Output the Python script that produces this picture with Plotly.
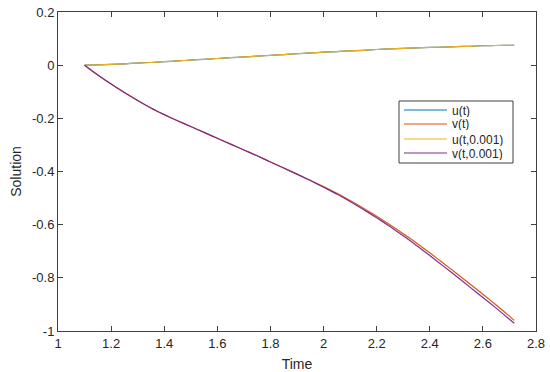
import plotly.graph_objects as go

t = [1.1, 1.15, 1.2, 1.25, 1.3, 1.35, 1.4, 1.45, 1.5, 1.55, 1.6, 1.65, 1.7, 1.75, 1.8, 1.85, 1.9, 1.95,
     2.0, 2.05, 2.1, 2.15, 2.2, 2.25, 2.3, 2.35, 2.4, 2.45, 2.5, 2.55, 2.6, 2.65, 2.7, 2.718]
u_exact = [0.0, 0.001, 0.003, 0.005, 0.008, 0.010, 0.013, 0.016, 0.019, 0.022, 0.025, 0.028, 0.031, 0.034,
           0.037, 0.040, 0.043, 0.046, 0.049, 0.051, 0.054, 0.056, 0.059, 0.061, 0.063, 0.065, 0.067, 0.068,
           0.070, 0.071, 0.073, 0.074, 0.075, 0.075]
v_exact = [0.0, -0.037, -0.071, -0.103, -0.133, -0.161, -0.186, -0.209, -0.231, -0.253, -0.275, -0.297,
           -0.319, -0.341, -0.364, -0.387, -0.41, -0.433, -0.457, -0.482, -0.509, -0.538, -0.568, -0.6,
           -0.634, -0.669, -0.706, -0.744, -0.783, -0.822, -0.862, -0.902, -0.944, -0.96]
u_approx = [0.0, 0.001, 0.003, 0.005, 0.008, 0.010, 0.013, 0.016, 0.019, 0.022, 0.025, 0.028, 0.031, 0.034,
            0.037, 0.040, 0.043, 0.046, 0.049, 0.051, 0.054, 0.056, 0.059, 0.061, 0.063, 0.065, 0.067, 0.068,
            0.070, 0.071, 0.073, 0.074, 0.075, 0.075]
v_approx = [0.0, -0.037, -0.071, -0.103, -0.133, -0.161, -0.186, -0.209, -0.231, -0.253, -0.275, -0.297,
            -0.319, -0.341, -0.364, -0.387, -0.41, -0.434, -0.459, -0.485, -0.513, -0.543, -0.574, -0.607,
            -0.642, -0.678, -0.716, -0.755, -0.794, -0.834, -0.874, -0.914, -0.956, -0.971]

names = ["u(t)", "v(t)", "u(t,0.001)", "v(t,0.001)"]
colors = ["#0072BD", "#D95319", "#EDB120", "#7E2F8E"]
series = [u_exact, v_exact, u_approx, v_approx]

FONT = "Arial, Liberation Sans, sans-serif"
TXT = "#262626"

W, H = 550, 372
L, R, T, B = 58, 14, 12, 41
PW, PH = W - L - R, H - T - B

def px(xp):
    return (xp - L) / PW

def py(yp):
    return (H - B - yp) / PH

fig = go.Figure()
for n, c, s in zip(names, colors, series):
    fig.add_trace(go.Scatter(x=t, y=s, mode="lines", name=n, showlegend=False,
                             line=dict(color=c, width=1.2, shape="spline", smoothing=0.5)))

axis_common = dict(showgrid=False, zeroline=False, showline=True, linecolor="#404040",
                   linewidth=1, mirror="ticks", ticks="inside", ticklen=5, automargin=False,
                   tickcolor="#404040", tickfont=dict(family=FONT, size=13, color=TXT))

fig.update_xaxes(range=[1, 2.8], tickvals=[1, 1.2, 1.4, 1.6, 1.8, 2, 2.2, 2.4, 2.6, 2.8],
                 ticktext=["1", "1.2", "1.4", "1.6", "1.8", "2", "2.2", "2.4", "2.6", "2.8"],
                 title=dict(text="Time", font=dict(family=FONT, size=14, color=TXT)),
                 **axis_common)
fig.update_yaxes(range=[-1, 0.2], tickvals=[-1, -0.8, -0.6, -0.4, -0.2, 0, 0.2],
                 ticktext=["-1", "-0.8", "-0.6", "-0.4", "-0.2", "0", "0.2"],
                 title=dict(text="Solution", font=dict(family=FONT, size=14, color=TXT), standoff=7),
                 **axis_common)

# Compact MATLAB-style legend box
fig.add_shape(type="rect", xref="paper", yref="paper", x0=px(399), x1=px(513), y0=py(163), y1=py(101),
              line=dict(color="#404040", width=1), fillcolor="white", layer="above")
row_y = [110, 124, 139, 153]
for n, c, yp in zip(names, colors, row_y):
    fig.add_shape(type="line", xref="paper", yref="paper", x0=px(404), x1=px(447),
                  y0=py(yp), y1=py(yp), line=dict(color=c, width=1.2), layer="above")
    fig.add_annotation(xref="paper", yref="paper", x=px(451), y=py(yp), text=n, showarrow=False,
                       xanchor="left", yanchor="middle", height=13, borderpad=0,
                       font=dict(family=FONT, size=12, color=TXT))

fig.update_layout(
    width=W, height=H,
    margin=dict(l=L, r=R, t=T, b=B),
    paper_bgcolor="white", plot_bgcolor="white",
    showlegend=False,
)

fig.write_html("out.html", config={"displayModeBar": False},
               post_script="document.body.style.margin='0';document.body.style.overflow='hidden';")
